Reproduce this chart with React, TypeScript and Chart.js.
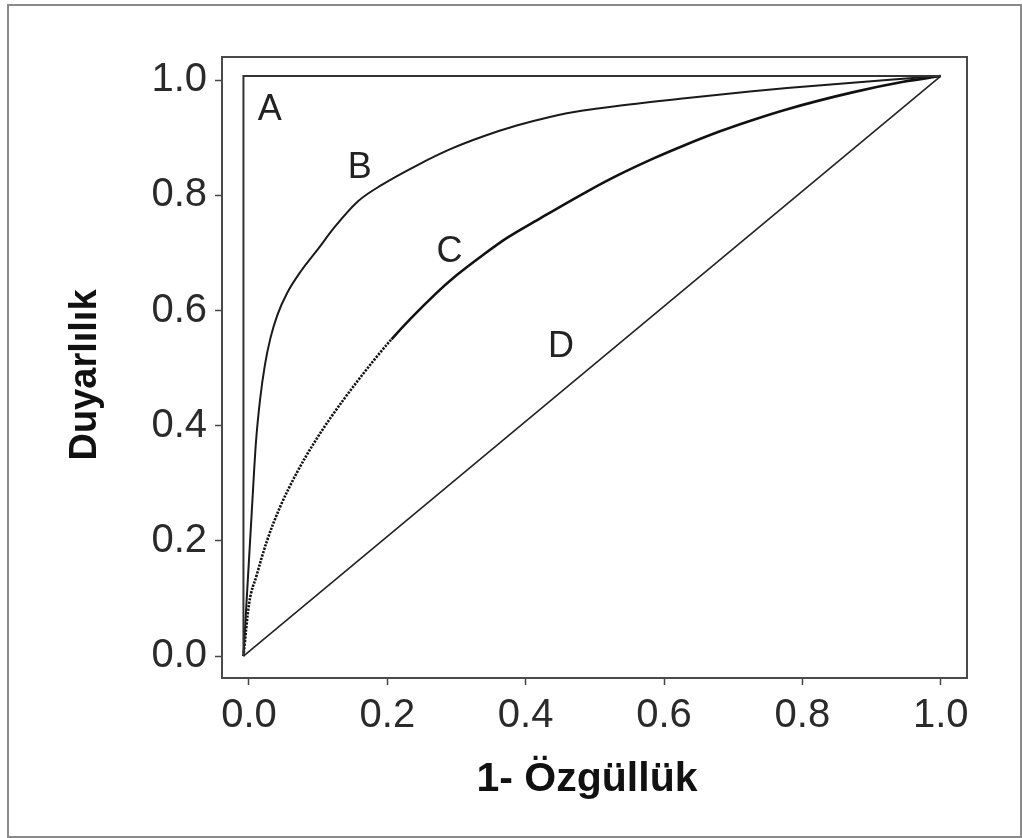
import React, { useEffect, useRef } from "react";
import { Chart, registerables } from "chart.js";

Chart.register(...registerables);

const X_TICKS = [0, 0.2, 0.4, 0.6, 0.8, 1.0];
const Y_TICKS = [0, 0.2, 0.4, 0.6, 0.8, 1.0];

const X_TITLE = "1- Özgüllük";
const Y_TITLE = "Duyarlılık";

const A_X = [-0.008, -0.008, 1.0];
const A_Y = [0.0, 1.007, 1.007];

const B_X = [-0.008, 0.004, 0.010, 0.016, 0.023, 0.031, 0.041, 0.055, 0.075, 0.100, 0.124, 0.158, 0.192, 0.243, 0.291, 0.338, 0.387, 0.435, 0.483, 0.532, 0.627, 0.724, 0.778, 0.922, 1.0];
const B_Y = [0.0, 0.250, 0.370, 0.445, 0.505, 0.552, 0.592, 0.630, 0.668, 0.707, 0.745, 0.790, 0.818, 0.852, 0.880, 0.902, 0.921, 0.936, 0.947, 0.955, 0.968, 0.980, 0.986, 1.000, 1.007];

const C_X = [-0.008, 0.000, 0.011, 0.026, 0.045, 0.069, 0.093, 0.117, 0.156, 0.206, 0.269, 0.300, 0.339, 0.373, 0.421, 0.488, 0.532, 0.585, 0.628, 0.681, 0.724, 0.777, 0.874, 0.946, 1.0];
const C_Y = [0.0, 0.090, 0.140, 0.200, 0.259, 0.318, 0.368, 0.412, 0.476, 0.550, 0.628, 0.661, 0.697, 0.726, 0.760, 0.806, 0.834, 0.864, 0.886, 0.911, 0.929, 0.949, 0.979, 0.997, 1.007];

const D_X = [-0.008, 1.0];
const D_Y = [0.0, 1.007];

const CURVE_LABELS = ["A", "B", "C", "D"];
const LABEL_X = [0.030, 0.160, 0.290, 0.451];
const LABEL_Y = [0.948, 0.847, 0.702, 0.536];

const FONT = "'Liberation Sans', Arial, Helvetica, sans-serif";

const zip = (xs: number[], ys: number[]) => xs.map((x, i) => ({ x, y: ys[i] }));

const framePlugin = {
  id: "frame",
  afterDraw(chart: any) {
    const { ctx, chartArea } = chart;
    ctx.save();
    ctx.strokeStyle = "#4a4a4a";
    ctx.lineWidth = 2;
    ctx.strokeRect(chartArea.left, chartArea.top, chartArea.right - chartArea.left, chartArea.bottom - chartArea.top);
    ctx.restore();
  },
};

const labelPlugin = {
  id: "curveLabels",
  afterDatasetsDraw(chart: any) {
    const { ctx, scales } = chart;
    ctx.save();
    ctx.fillStyle = "#222";
    ctx.font = `36px ${FONT}`;
    ctx.textAlign = "center";
    ctx.textBaseline = "middle";
    CURVE_LABELS.forEach((t, i) => {
      ctx.fillText(t, scales.x.getPixelForValue(LABEL_X[i]), scales.y.getPixelForValue(LABEL_Y[i]));
    });
    ctx.restore();
  },
};

const titlePlugin = {
  id: "axisTitles",
  afterDraw(chart: any) {
    const { ctx } = chart;
    ctx.save();
    ctx.fillStyle = "#111";
    ctx.textAlign = "center";
    ctx.textBaseline = "middle";
    ctx.font = `bold 41px ${FONT}`;
    ctx.fillText(X_TITLE, 587, 780);
    ctx.translate(86, 375);
    ctx.rotate(-Math.PI / 2);
    ctx.font = `bold 38px ${FONT}`;
    ctx.fillText(Y_TITLE, 0, 0);
    ctx.restore();
  },
};

export default function App() {
  const ref = useRef<HTMLCanvasElement | null>(null);

  useEffect(() => {
    if (!ref.current) return;
    const lineStyle = { borderColor: "#1a1a1a", pointRadius: 0, showLine: true, fill: false };
    const chart = new Chart(ref.current, {
      type: "scatter",
      data: {
        datasets: [
          { ...lineStyle, label: "A", data: zip(A_X, A_Y), borderWidth: 2, borderColor: "#333", tension: 0 },
          { ...lineStyle, label: "B", data: zip(B_X, B_Y), borderWidth: 2, cubicInterpolationMode: "monotone" },
          {
            ...lineStyle,
            label: "C",
            data: zip(C_X, C_Y),
            borderWidth: 2.6,
            borderColor: "#111",
            cubicInterpolationMode: "monotone",
            segment: {
              borderDash: (ctx: any) => (ctx.p1.parsed.y <= 0.6 ? [2.2, 1.3] : undefined),
            },
          },
          { ...lineStyle, label: "D", data: zip(D_X, D_Y), borderWidth: 1.6, borderColor: "#222", tension: 0 },
        ],
      },
      options: {
        animation: false,
        responsive: false,
        devicePixelRatio: 1,
        layout: { padding: { top: 57, right: 55, left: 0, bottom: 0 } },
        plugins: { legend: { display: false }, tooltip: { enabled: false } },
        scales: {
          x: {
            type: "linear",
            min: -0.039,
            max: 1.038,
            afterFit: (s: any) => { s.height = 160; },
            afterBuildTicks: (s: any) => { s.ticks = X_TICKS.map((v) => ({ value: v })); },
            grid: { drawOnChartArea: false, drawTicks: true, tickLength: 7, tickColor: "#444", tickWidth: 1.5 },
            border: { display: false },
            ticks: {
              color: "#2a2a2a",
              font: { family: FONT, size: 40 },
              padding: 7,
              maxRotation: 0,
              callback: (v: any) => Number(v).toFixed(1),
            },
            title: { display: false },
          },
          y: {
            type: "linear",
            min: -0.038,
            max: 1.040,
            afterFit: (s: any) => { s.width = 222; },
            afterBuildTicks: (s: any) => { s.ticks = Y_TICKS.map((v) => ({ value: v })); },
            grid: { drawOnChartArea: false, drawTicks: true, tickLength: 7, tickColor: "#444", tickWidth: 1.5 },
            border: { display: false },
            ticks: {
              color: "#2a2a2a",
              font: { family: FONT, size: 40 },
              padding: 8,
              callback: (v: any) => Number(v).toFixed(1),
            },
            title: { display: false },
          },
        },
      } as any,
      plugins: [framePlugin, labelPlugin, titlePlugin],
    });
    return () => chart.destroy();
  }, []);

  return (
    <div style={{ position: "fixed", left: 0, top: 0, width: 1022, height: 838, background: "#fff" }}>
      <div
        style={{
          position: "absolute",
          left: 7,
          top: 4,
          width: 1011,
          height: 830,
          border: "2px solid #8a8a8a",
          boxSizing: "content-box",
        }}
      />
      <canvas ref={ref} width={1022} height={838} style={{ position: "absolute", left: 0, top: 0 }} />
    </div>
  );
}
